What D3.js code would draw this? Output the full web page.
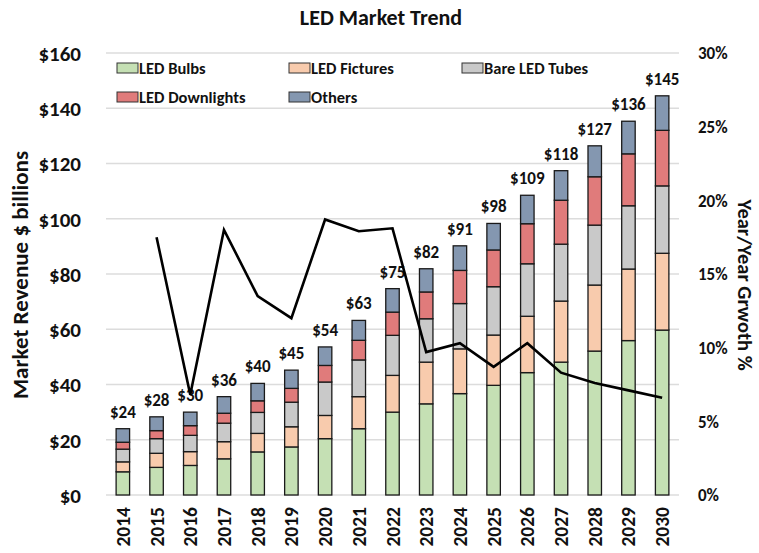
<!DOCTYPE html>
<html>
<head>
<meta charset="utf-8">
<script src="https://cdn.jsdelivr.net/npm/d3@7"></script>
<style>
  body { margin: 0; background: #fff; }
  svg text { font-family: Carlito, Calibri, Lato, sans-serif; font-weight: bold; fill: #111; }
</style>
</head>
<body>
<svg id="chart" width="759" height="553"></svg>
<script>
// data ($ billions and % growth)
var years      = ['2014','2015','2016','2017','2018','2019','2020','2021','2022','2023','2024','2025','2026','2027','2028','2029','2030'];
var bulbs      = [8.4, 10.0, 10.7, 13.1, 15.6, 17.4, 20.4, 24.0, 30.0, 33.0, 36.7, 39.7, 44.3, 48.1, 52.1, 55.9, 59.7];
var fixtures   = [3.6, 5.1, 5.0, 6.2, 6.7, 7.3, 8.4, 11.6, 13.3, 15.1, 16.2, 18.2, 20.4, 22.1, 23.9, 25.9, 27.8];
var tubes      = [4.6, 5.3, 5.9, 6.7, 7.6, 8.9, 12.1, 13.3, 14.5, 15.7, 16.4, 17.5, 19.0, 20.6, 21.7, 22.9, 24.4];
var downlights = [2.5, 2.9, 3.5, 3.6, 4.2, 5.0, 6.0, 7.1, 8.4, 9.7, 12.0, 13.3, 14.5, 15.9, 17.5, 18.8, 20.1];
var others     = [4.9, 5.0, 4.9, 6.0, 6.3, 6.6, 6.7, 7.2, 8.5, 8.4, 8.9, 9.6, 10.3, 10.7, 11.2, 11.8, 12.5];
var totals     = [24, 28, 30, 36, 40, 45, 54, 63, 75, 82, 91, 98, 109, 118, 127, 136, 145];
var growth     = [null, 17.5, 6.8, 18.0, 13.5, 12.0, 18.7, 17.9, 18.1, 9.7, 10.3, 8.7, 10.3, 8.3, 7.6, 7.1, 6.6];

var seriesNames  = ['LED Bulbs', 'LED Fictures', 'Bare LED Tubes', 'LED Downlights', 'Others'];
var seriesValues = [bulbs, fixtures, tubes, downlights, others];
var colors       = ['#c5e0b4', '#f8cbad', '#c9c9c9', '#e07b7b', '#8497b0'];
var leftTicks    = [0, 20, 40, 60, 80, 100, 120, 140, 160];
var rightTicks   = [0, 5, 10, 15, 20, 25, 30];

var W = 759, H = 553;
var m = {top: 53, right: 80, bottom: 58, left: 106};
var svg = d3.select('#chart');

var x = d3.scaleBand().domain(years).range([m.left, W - m.right]).paddingInner(0.6).paddingOuter(0.3);
var y = d3.scaleLinear().domain([0, 160]).range([H - m.bottom, m.top]);
var y2 = d3.scaleLinear().domain([0, 30]).range([H - m.bottom, m.top]);

// gridlines
svg.append('g').selectAll('line').data(leftTicks).enter().append('line')
  .attr('x1', m.left).attr('x2', W - m.right)
  .attr('y1', function(d){ return y(d); }).attr('y2', function(d){ return y(d); })
  .attr('stroke', '#dcdcdc').attr('stroke-width', 1.3);

// stacked bars
var rows = years.map(function(yr, i){
  var r = {year: yr};
  seriesNames.forEach(function(n, k){ r[n] = seriesValues[k][i]; });
  return r;
});
var stacked = d3.stack().keys(seriesNames)(rows);

svg.append('g').selectAll('g').data(stacked).enter().append('g')
  .attr('fill', function(d, k){ return colors[k]; })
  .selectAll('rect').data(function(d){ return d; }).enter().append('rect')
  .attr('x', function(d){ return x(d.data.year); })
  .attr('width', x.bandwidth())
  .attr('y', function(d){ return y(d[1]); })
  .attr('height', function(d){ return y(d[0]) - y(d[1]); })
  .attr('stroke', '#1a1a1a').attr('stroke-width', 1.3);

// total labels on top of the last layer
var topLayer = stacked[stacked.length - 1];
svg.append('g').selectAll('text').data(topLayer).enter().append('text')
  .attr('x', function(d){ return x(d.data.year) + x.bandwidth() / 2; })
  .attr('y', function(d){ return y(d[1]) - 11; })
  .attr('text-anchor', 'middle').style('font-size', '17px')
  .text(function(d, i){ return '$' + totals[i]; });

// growth line
var line = d3.line()
  .defined(function(d){ return d != null; })
  .x(function(d, i){ return x(years[i]) + x.bandwidth() / 2; })
  .y(function(d){ return y2(d); });
svg.append('path').datum(growth)
  .attr('d', line).attr('fill', 'none')
  .attr('stroke', '#000').attr('stroke-width', 2.6);

// left axis
var yAxis = svg.append('g').attr('transform', 'translate(' + (m.left - 22) + ',0)')
  .call(d3.axisLeft(y).tickValues(leftTicks).tickSize(0).tickFormat(function(d){ return '$' + d; }));
yAxis.select('.domain').remove();
yAxis.selectAll('text').style('font-size', '21px').attr('dy', '0.35em');

// right axis
var y2Axis = svg.append('g').attr('transform', 'translate(' + (W - m.right + 16) + ',0)')
  .call(d3.axisRight(y2).tickValues(rightTicks).tickSize(0).tickFormat(function(d){ return d + '%'; }));
y2Axis.select('.domain').remove();
y2Axis.selectAll('text').style('font-size', '17px').attr('dy', '0.35em');

// x labels, rotated
svg.append('g').selectAll('text').data(years).enter().append('text')
  .attr('transform', function(d){ return 'translate(' + (x(d) + x.bandwidth() / 2 + 7) + ',' + (H - m.bottom + 12) + ') rotate(-90)'; })
  .attr('text-anchor', 'end').style('font-size', '19.5px')
  .text(function(d){ return d; });

// titles
svg.append('text').attr('x', 381).attr('y', 25).attr('text-anchor', 'middle')
  .style('font-size', '22px').text('LED Market Trend');
svg.append('text').attr('transform', 'translate(28,275) rotate(-90)').attr('text-anchor', 'middle')
  .style('font-size', '23px').text('Market Revenue $ billions');
svg.append('text').attr('transform', 'translate(738,285) rotate(90)').attr('text-anchor', 'middle')
  .style('font-size', '20.5px').text('Year/Year Grwoth %');

// legend
var legendPos = [[117, 68], [289, 68], [462, 68], [117, 97], [289, 97]];
var legend = svg.append('g').selectAll('g').data(seriesNames).enter().append('g')
  .attr('transform', function(d, k){ return 'translate(' + legendPos[k][0] + ',' + legendPos[k][1] + ')'; });
legend.append('rect').attr('x', 0).attr('y', -5).attr('width', 21).attr('height', 10)
  .attr('fill', function(d, k){ return colors[k]; }).attr('stroke', '#333').attr('stroke-width', 1);
legend.append('text').attr('x', 22).attr('dy', '0.35em').style('font-size', '16.5px')
  .text(function(d){ return d; });
</script>
</body>
</html>
